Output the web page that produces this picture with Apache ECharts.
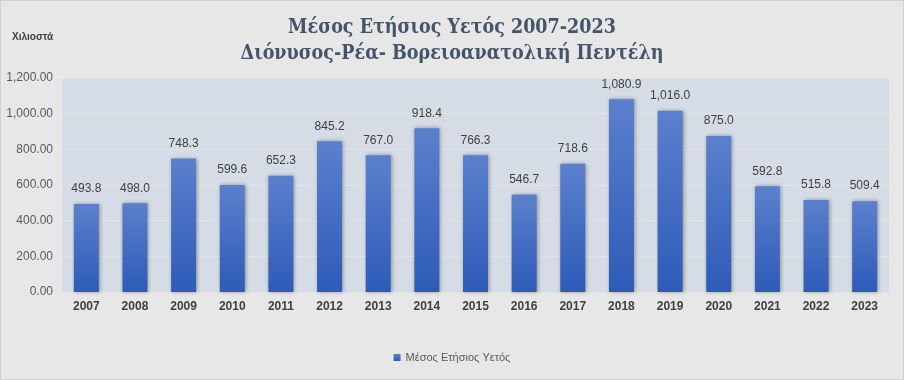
<!DOCTYPE html>
<html><head><meta charset="utf-8">
<script src="https://cdn.jsdelivr.net/npm/echarts@6/dist/echarts.min.js"></script>
<style>html,body{margin:0;padding:0;background:#e7e7e7;}#c{width:904px;height:380px;}</style>
</head><body><div id="c"></div>
<script>
const categories = ['2007','2008','2009','2010','2011','2012','2013','2014','2015','2016','2017','2018','2019','2020','2021','2022','2023'];
const values = [493.8,498.0,748.3,599.6,652.3,845.2,767.0,918.4,766.3,546.7,718.6,1080.9,1016.0,875.0,592.8,515.8,509.4];
const seriesName = 'Μέσος Ετήσιος Υετός';
const titleLines = ['Μέσος Ετήσιος Υετός 2007-2023','Διόνυσος-Ρέα- Βορειοανατολική Πεντέλη'];
const yAxisName = 'Χιλιοστά';

const chart = echarts.init(document.getElementById('c'));
chart.setOption({
  backgroundColor: '#e7e7e7',
  animation: false,
  title: {
    text: titleLines.join('\n'),
    left: 'center', top: 10,
    textStyle: {fontFamily: 'DejaVu Serif Condensed', fontSize: 19.5, fontWeight: 'bold', color: '#44546a', lineHeight: 26}
  },
  graphic: [{type:'rect', shape:{x:0.5,y:0.5,width:903,height:379}, style:{fill:null, stroke:'#d0d0d0', lineWidth:1}},
    {type:'text', left: 12, top: 32, style:{text: yAxisName, font:'bold 10px "Liberation Sans Narrow", "Liberation Sans"', fill:'#404040'}}],
  grid: {left: 62, right: 15, top: 78, bottom: 88, backgroundColor: '#d6dce5', show: true, borderWidth: 0},
  legend: {bottom: 12, left: 'center', itemWidth: 7, itemHeight: 7, icon: 'rect',
    textStyle: {fontFamily: 'Liberation Sans', fontSize: 11, color: '#595959'}, data: [seriesName]},
  xAxis: {type: 'category', data: categories,
    axisLine: {show: false}, axisTick: {show: false},
    axisLabel: {fontFamily: 'Liberation Sans', fontWeight: 'bold', fontSize: 12, color: '#404040', margin: 9}},
  yAxis: {type: 'value', min: 0, max: 1200, interval: 200,
    axisLabel: {formatter: v => v.toLocaleString('en-US',{minimumFractionDigits:2, maximumFractionDigits:2}),
      fontFamily: 'Liberation Sans', fontSize: 12, color: '#595959', margin: 9},
    splitLine: {lineStyle: {color: '#e2e2e2', width: 1}}},
  series: [{name: seriesName, type: 'bar', data: values, barWidth: 25,
    itemStyle: {color: new echarts.graphic.LinearGradient(0,0,0,1,[{offset:0,color:'#5b80cd'},{offset:1,color:'#2d5bb8'}]),
      shadowColor: 'rgba(0,0,0,0.35)', shadowBlur: 4, shadowOffsetX: 1, shadowOffsetY: 0},
    label: {show: true, position: 'top', distance: 9, formatter: p => p.value.toLocaleString('en-US',{minimumFractionDigits:1, maximumFractionDigits:1}),
      fontFamily: 'Liberation Sans', fontSize: 12, color: '#404040'}}]
});
</script></body></html>
